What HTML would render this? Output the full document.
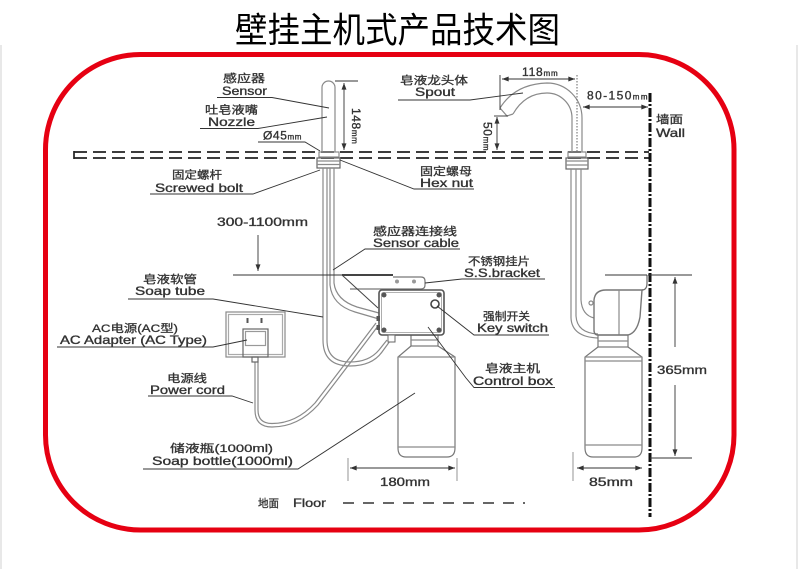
<!DOCTYPE html>
<html><head><meta charset="utf-8"><style>
html,body{margin:0;padding:0;background:#fff;}
svg{display:block;}
text{font-family:"Liberation Sans","Noto Sans CJK SC",sans-serif;}
.l{font-size:12px;font-weight:normal;fill:#333;stroke:#333;stroke-width:0.35;}
.c{font-size:11px;font-weight:normal;fill:#333;stroke:#333;stroke-width:0.3;}
</style></head><body>
<svg width="800" height="569" viewBox="0 0 800 569" xmlns="http://www.w3.org/2000/svg">
<defs>
<marker id="ar" viewBox="0 0 8 6" refX="8" refY="3" markerWidth="7" markerHeight="5" markerUnits="userSpaceOnUse" orient="auto-start-reverse"><path d="M0,0 L8,3 L0,6 Z" fill="#333"/></marker>
</defs>
<rect width="800" height="569" fill="#fff"/>
<line x1="1" y1="45" x2="1" y2="569" stroke="#e8e8e8" stroke-width="2"/>
<line x1="797" y1="45" x2="797" y2="569" stroke="#e8e8e8" stroke-width="2"/>

<!-- Title -->
<text x="235" y="42.5" font-size="35" textLength="325" lengthAdjust="spacingAndGlyphs" fill="#000" style="font-family:'Noto Sans CJK SC',sans-serif">壁挂主机式产品技术图</text>

<!-- Red border -->
<rect x="45.5" y="54.5" width="688.5" height="475.5" rx="95" ry="95" fill="none" stroke="#e60012" stroke-width="5"/>

<!-- Counter dashed lines -->
<g stroke="#222" stroke-width="1.7" fill="none">
<line x1="74" y1="152" x2="649" y2="152" stroke-dasharray="13 6"/>
<line x1="74" y1="158" x2="649" y2="158" stroke-dasharray="13 6"/>
<line x1="74" y1="151" x2="74" y2="159"/>
</g>

<!-- Wall -->
<line x1="650" y1="93" x2="650" y2="517" stroke="#111" stroke-width="3" stroke-dasharray="9 2 2 2"/>

<!-- Floor -->
<line x1="343" y1="503" x2="525" y2="503" stroke="#333" stroke-width="1.5" stroke-dasharray="11 9"/>

<!-- ===== Left device drawing ===== -->
<g stroke="#8a8a8a" stroke-width="1.2" fill="none">
  <path d="M322,152 V87.5 A6.5,6.5 0 0 1 335,87.5 V152"/>
  <rect x="319" y="152" width="20" height="5"/>
  <rect x="317" y="158" width="23" height="10" stroke="#666"/>
  <line x1="317" y1="161" x2="340" y2="161"/>
  <line x1="317" y1="164.5" x2="340" y2="164.5"/>
  <path d="M323,168 V340 Q323,366 350,366 Q372,366 382,352 L390,341"/>
  <path d="M327,168 V340 Q327,362 350,362 Q369,362 379,350 L387,340"/>
  <path d="M330,168 V285 Q332,305 355,312 L379,319"/>
  <path d="M334,168 V283 Q336,300 357,307 L379,313"/>
  <path d="M255,362 V410 Q255,427 272,427 Q298,427 318,405 Q345,370 378,326"/>
  <path d="M258,362 V410 Q258,423.5 272,423.5 Q296,423.5 315,403 Q342,368 376,323"/>
  <rect x="226" y="312" width="59" height="45"/>
  <rect x="228.5" y="314.5" width="54" height="40" stroke="#aaa"/>
  <rect x="243" y="329" width="25" height="28" stroke="#666"/>
  <rect x="245.5" y="331.5" width="20" height="14" stroke="#999"/>
  <rect x="252" y="357" width="6" height="5" stroke="#666"/>
  <rect x="411" y="335" width="27" height="11" stroke="#777"/>
  <line x1="411" y1="340" x2="438" y2="340"/>
  <path d="M411,346 L398,357 V448 Q398,457 406,457 H447 Q455,457 455,448 V357 L438,346" stroke="#777"/>
  <line x1="398" y1="357" x2="455" y2="357"/>
  <line x1="398" y1="447" x2="455" y2="447"/>
</g>
<g fill="#555">
  <rect x="246.5" y="318" width="2" height="5"/>
  <rect x="260.5" y="318" width="2" height="5"/>
</g>
<!-- bracket -->
<g stroke="#444" fill="none">
  <line x1="342" y1="275" x2="393" y2="275" stroke-width="2"/>
  <path d="M393,277 H421 Q425,277 425,281 V285 Q425,289 421,289 H350" stroke-width="1.2" stroke="#777"/>
  <line x1="342" y1="275" x2="378" y2="308" stroke-width="1"/>
</g>
<circle cx="397" cy="281.5" r="2" fill="#999"/>
<circle cx="414" cy="281.5" r="2" fill="#999"/>
<!-- control box -->
<rect x="379" y="290" width="65" height="45" rx="3" fill="#fff" stroke="#555" stroke-width="1.6"/>
<rect x="381.5" y="292.5" width="60" height="40" rx="2" fill="none" stroke="#999" stroke-width="0.8"/>
<g fill="#555">
  <circle cx="384" cy="295" r="2.5"/><circle cx="439" cy="295" r="2.5"/>
  <circle cx="384" cy="330" r="2.5"/><circle cx="439" cy="330" r="2.5"/>
  <rect x="376.5" y="316" width="3.5" height="5"/>
  <rect x="376.5" y="325" width="3.5" height="5"/>
</g>
<circle cx="435" cy="304" r="4" fill="none" stroke="#444" stroke-width="1.6"/>
<rect x="388" y="335" width="7" height="7" fill="#fff" stroke="#666" stroke-width="1"/>

<!-- ===== Right device drawing ===== -->
<g stroke="#8a8a8a" stroke-width="1.2" fill="none">
  <path d="M500,108 Q515,84 547,83 A35,35 0 0 1 582,118 V152"/>
  <path d="M513,114 Q525,93 547,93 A25,25 0 0 1 572,118 V152"/>
  <path d="M500,108 L507,116 L513,114"/>
  <rect x="568" y="152" width="18" height="5"/>
  <rect x="566" y="158" width="22" height="11" stroke="#666"/>
  <line x1="566" y1="161" x2="588" y2="161"/>
  <line x1="566" y1="165" x2="588" y2="165"/>
  <path d="M571,169 V318 Q572,337 598,338"/>
  <path d="M576,169 V316 Q577,333 598,334"/>
  <path d="M581,169 V300 Q582,315 594,318"/>
  <path d="M594,300 Q595,290 606,290 H642 L640,317 Q637,333 628,335 H598 Q594,335 594,330 Z" stroke="#777" stroke-width="1.4"/>
  <line x1="619" y1="290" x2="619" y2="335"/>
  <path d="M647,275 V283 Q647,290 642,290" stroke="#666"/>
  <circle cx="591" cy="303" r="2"/>
  <rect x="598" y="335" width="30" height="12" stroke="#777"/>
  <line x1="598" y1="341" x2="628" y2="341"/>
  <path d="M598,347 L585,357 V448 Q585,457 593,457 H634 Q642,457 642,448 V357 L628,347" stroke="#777"/>
  <line x1="585" y1="357" x2="642" y2="357"/>
  <line x1="585" y1="361" x2="642" y2="361"/>
  <line x1="585" y1="445" x2="642" y2="445"/>
</g>

<!-- ===== Dimension lines ===== -->
<g stroke="#333" stroke-width="0.9" fill="none">
  <line x1="335" y1="81" x2="358" y2="81"/>
  <line x1="344" y1="83" x2="344" y2="150" marker-start="url(#ar)" marker-end="url(#ar)"/>
  <line x1="500" y1="75" x2="500" y2="110"/>
  <line x1="502" y1="79" x2="575" y2="79" marker-start="url(#ar)" marker-end="url(#ar)"/>
  <line x1="577" y1="75" x2="577" y2="152" stroke-dasharray="1.5 1.5" stroke="#555"/>
  <line x1="494" y1="116" x2="508" y2="116"/>
  <line x1="497" y1="117" x2="497" y2="150" marker-start="url(#ar)" marker-end="url(#ar)"/>
  <line x1="583" y1="107" x2="648" y2="107" marker-start="url(#ar)" marker-end="url(#ar)"/>
  <line x1="258" y1="235" x2="258" y2="271" marker-end="url(#ar)"/>
  <line x1="233" y1="275" x2="342" y2="275"/>
  <line x1="648" y1="275" x2="692" y2="275"/>
  <line x1="605" y1="275" x2="647" y2="275"/>
  <line x1="675" y1="277" x2="675" y2="347" marker-start="url(#ar)"/>
  <line x1="675" y1="385" x2="675" y2="456" marker-end="url(#ar)"/>
  <line x1="650" y1="458" x2="692" y2="458"/>
  <line x1="348" y1="458" x2="348" y2="481" stroke="#888"/>
  <line x1="457" y1="458" x2="457" y2="481" stroke="#888"/>
  <line x1="350" y1="468" x2="455" y2="468" marker-start="url(#ar)" marker-end="url(#ar)"/>
  <line x1="573" y1="452" x2="573" y2="481" stroke="#888"/>
  <line x1="577" y1="468" x2="642" y2="468" marker-start="url(#ar)" marker-end="url(#ar)"/>
</g>

<!-- ===== Leader lines ===== -->
<g stroke="#333" stroke-width="0.9" fill="none">
  <path d="M217,97.5 H272 L329,108"/>
  <path d="M200,128.5 H258 L327,117"/>
  <path d="M258,142 H305 L320,151"/>
  <path d="M150,194 H253 L320,170"/>
  <path d="M398,100 H470 L523,93"/>
  <path d="M474,189 H414 L340,160"/>
  <path d="M460,249 H365 L333,270"/>
  <path d="M545,279 H462 L425,283"/>
  <path d="M128,299 H213 L323,317"/>
  <path d="M549,335 H474 L437,306"/>
  <path d="M57,347 H213 L247,340"/>
  <path d="M555,387.5 H474 L466,378 L428,327"/>
  <path d="M148,396 H232 L253,403"/>
  <path d="M143,469 H298 L415,393"/>
</g>

<!-- ===== Labels ===== -->
<text class="c" x="223" y="82" textLength="42" lengthAdjust="spacingAndGlyphs">感应器</text>
<text class="l" x="222" y="95" textLength="45" lengthAdjust="spacingAndGlyphs">Sensor</text>
<text class="c" x="205" y="113.5" textLength="53" lengthAdjust="spacingAndGlyphs">吐皂液嘴</text>
<text class="l" x="208" y="126" textLength="47" lengthAdjust="spacingAndGlyphs">Nozzle</text>
<text class="l" x="263" y="139.5" letter-spacing="0.6"><tspan font-size="12">Ø45</tspan><tspan font-size="8">mm</tspan></text>
<text class="c" x="172" y="178.5" textLength="50" lengthAdjust="spacingAndGlyphs">固定螺杆</text>
<text class="l" x="155" y="192" textLength="88" lengthAdjust="spacingAndGlyphs">Screwed bolt</text>

<text class="c" x="400" y="84" textLength="68" lengthAdjust="spacingAndGlyphs">皂液龙头体</text>
<text class="l" x="415" y="96" textLength="40" lengthAdjust="spacingAndGlyphs">Spout</text>
<text class="l" x="522" y="76" letter-spacing="0.8"><tspan font-size="12">118</tspan><tspan font-size="8">mm</tspan></text>
<text class="l" x="587" y="99.5" letter-spacing="1.4"><tspan font-size="12">80-150</tspan><tspan font-size="8">mm</tspan></text>
<text class="l" transform="translate(352,108) rotate(90)" letter-spacing="0.6"><tspan font-size="12">148</tspan><tspan font-size="8">mm</tspan></text>
<text class="l" transform="translate(483.5,122) rotate(90)" letter-spacing="0.6"><tspan font-size="12">50</tspan><tspan font-size="8">mm</tspan></text>
<text class="c" x="656" y="123" textLength="27" lengthAdjust="spacingAndGlyphs">墙面</text>
<text class="l" x="656" y="137" textLength="29" lengthAdjust="spacingAndGlyphs">Wall</text>
<text class="c" x="420" y="175" textLength="52" lengthAdjust="spacingAndGlyphs">固定螺母</text>
<text class="l" x="420" y="187" textLength="53" lengthAdjust="spacingAndGlyphs">Hex nut</text>

<text class="l" x="217" y="226" textLength="91" lengthAdjust="spacingAndGlyphs">300-1100mm</text>
<text class="c" x="373" y="235" textLength="84" lengthAdjust="spacingAndGlyphs">感应器连接线</text>
<text class="l" x="373" y="247" textLength="86" lengthAdjust="spacingAndGlyphs">Sensor cable</text>
<text class="c" x="468" y="265" textLength="62" lengthAdjust="spacingAndGlyphs">不锈钢挂片</text>
<text class="l" x="464" y="277" textLength="76" lengthAdjust="spacingAndGlyphs">S.S.bracket</text>
<text class="c" x="143" y="283" textLength="54" lengthAdjust="spacingAndGlyphs">皂液软管</text>
<text class="l" x="135" y="295" textLength="70" lengthAdjust="spacingAndGlyphs">Soap tube</text>
<text class="c" x="483" y="320" textLength="47" lengthAdjust="spacingAndGlyphs">强制开关</text>
<text class="l" x="477" y="332" textLength="71" lengthAdjust="spacingAndGlyphs">Key switch</text>
<text class="c" x="92" y="332" textLength="86" lengthAdjust="spacingAndGlyphs">AC电源(AC型)</text>
<text class="l" x="60" y="344" textLength="147" lengthAdjust="spacingAndGlyphs">AC Adapter (AC Type)</text>
<text class="c" x="485" y="372" textLength="55" lengthAdjust="spacingAndGlyphs">皂液主机</text>
<text class="l" x="473" y="385" textLength="80" lengthAdjust="spacingAndGlyphs">Control box</text>
<text class="l" x="657" y="374" textLength="50" lengthAdjust="spacingAndGlyphs">365mm</text>
<text class="c" x="167" y="382" textLength="40" lengthAdjust="spacingAndGlyphs">电源线</text>
<text class="l" x="150" y="394" textLength="75" lengthAdjust="spacingAndGlyphs">Power cord</text>
<text class="c" x="170" y="452" textLength="103" lengthAdjust="spacingAndGlyphs">储液瓶(1000ml)</text>
<text class="l" x="152" y="465" textLength="141" lengthAdjust="spacingAndGlyphs">Soap bottle(1000ml)</text>
<text class="l" x="380" y="486" textLength="50" lengthAdjust="spacingAndGlyphs">180mm</text>
<text class="l" x="589" y="486" textLength="44" lengthAdjust="spacingAndGlyphs">85mm</text>
<text class="c" x="258" y="507" textLength="21" lengthAdjust="spacingAndGlyphs">地面</text>
<text class="l" x="293" y="507" textLength="33" lengthAdjust="spacingAndGlyphs">Floor</text>
</svg>
</body></html>
